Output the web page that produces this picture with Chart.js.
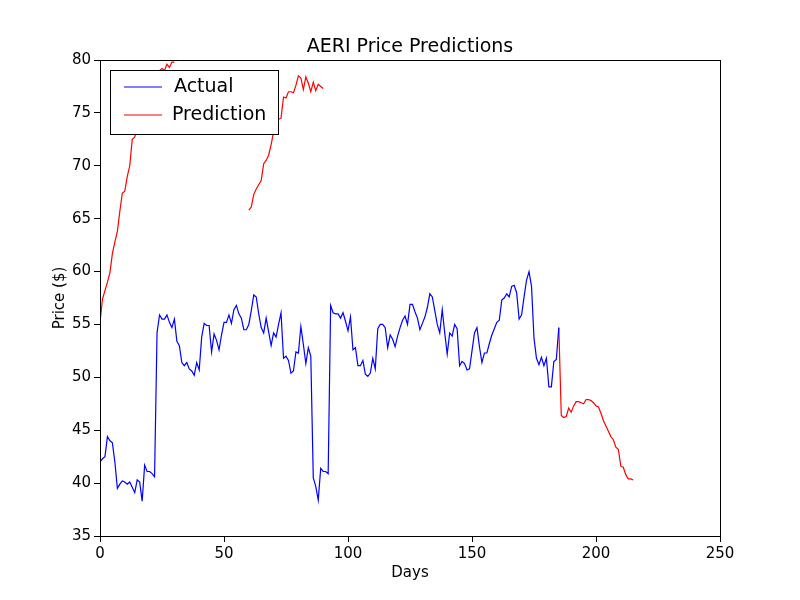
<!DOCTYPE html>
<html>
<head>
<meta charset="utf-8">
<script src="https://cdn.jsdelivr.net/npm/chart.js@4"></script>
<style>
  body { margin: 0; background: #fff; }
  #wrap { width: 800px; height: 600px; }
</style>
</head>
<body>
<div id="wrap"><canvas id="chart" width="800" height="600"></canvas></div>
<script>
// Actual price, one value per day starting at day 0
const actual = [
  42, 42.3, 42.5, 44.4, 44, 43.8, 42, 39.5, 39.9, 40.2, 40.1, 39.9, 40.1, 39.6, 39.1, 40.3, 40.1, 38.3, 41.7, 41.1,
  41.1, 40.9, 40.6, 54.2, 55.9, 55.5, 55.5, 55.9, 55.2, 54.7, 55.5, 53.4, 53, 51.4, 51.1, 51.4, 50.8, 50.6, 50.2, 51.4,
  50.7, 53.8, 55.1, 54.9, 54.9, 52.4, 54.1, 53.5, 52.6, 54, 55.2, 55.2, 55.9, 55.1, 56.4, 56.8, 56, 55.6, 54.5, 54.5,
  55, 56.3, 57.8, 57.6, 56, 54.7, 54.2, 55.6, 54.3, 53, 54.2, 53.8, 55, 56.1, 51.8, 52, 51.6, 50.4, 50.6, 52.4,
  52.3, 54.8, 53.1, 51.3, 52.8, 52, 40.5, 39.7, 38.4, 41.4, 41.1, 41.1, 40.9, 56.8, 56.1, 56, 56, 55.6, 56.1, 55.3,
  54.4, 55.7, 52.6, 52.8, 51.1, 51.1, 51.6, 50.3, 50.1, 50.4, 51.8, 50.8, 54.6, 55, 55, 54.7, 52.8, 54, 53.6, 52.9,
  53.9, 54.7, 55.4, 55.8, 55, 56.9, 56.9, 56.2, 55.6, 54.5, 55.1, 55.7, 56.6, 57.9, 57.6, 56.3, 55, 54.2, 56.4, 54.2,
  52.2, 54.2, 53.9, 55, 54.6, 51.1, 51.5, 51.3, 50.7, 50.8, 52.5, 54.2, 54.7, 52.9, 51.4, 52.3, 52.3, 53.2, 54, 54.6,
  55.2, 55.4, 57.3, 57.5, 57.9, 57.6, 58.6, 58.7, 58, 55.5, 55.9, 57.6, 59.2, 60, 58.6, 53.7, 51.8, 51.2, 51.9, 51.1,
  51.8, 49.1, 49.1, 51.5, 51.7, 54.7
];

// Prediction segments: start day and daily values
const predStarts = [0, 60, 185];
const pred1 = [55.2, 57.4, 58.2, 59, 59.9, 61.7, 62.8, 63.8, 65.7, 67.4, 67.6, 69, 70, 72.5, 72.7, 73.5, 74.5, 75.5, 76, 76.8,
  77, 77.5, 78, 78.5, 79, 79.2, 79, 79.6, 79.3, 79.8, 79.8];
const pred2 = [65.8, 66.1, 67.3, 67.8, 68.2, 68.6, 70.2, 70.5, 71, 72, 73.2, 73.6, 74.4, 74.5, 76.5, 76.4, 77, 77, 76.9, 77.6,
  78.5, 78.3, 77.2, 78.4, 77.8, 77, 77.9, 77.1, 77.7, 77.5, 77.3];
const pred3 = [54.7, 46.4, 46.2, 46.3, 47.1, 46.7, 47.3, 47.7, 47.7, 47.6, 47.5, 47.9, 47.9, 47.8, 47.6, 47.3, 47.2, 46.6, 45.9, 45.4,
  44.9, 44.4, 44.1, 43.4, 43.2, 41.6, 41.5, 40.8, 40.4, 40.4, 40.3];

const xTicks = [0, 50, 100, 150, 200, 250];
const yTicks = [35, 40, 45, 50, 55, 60, 65, 70, 75, 80];

const actualPts = actual.map((v, i) => ({ x: i, y: v }));
const predPts = [];
[pred1, pred2, pred3].forEach((seg, s) => {
  if (s > 0) predPts.push({ x: predStarts[s] - 0.5, y: null });
  seg.forEach((v, i) => predPts.push({ x: predStarts[s] + i, y: v }));
});

const FONT = "'DejaVu Sans', sans-serif";

// matplotlib style box, title, axis labels and inner legend
const framePlugin = {
  id: 'frame',
  afterDraw(chart) {
    const { ctx, chartArea: a } = chart;
    ctx.save();
    ctx.strokeStyle = '#000';
    ctx.lineWidth = 1;
    ctx.strokeRect(a.left + 0.5, a.top + 0.5, a.right - a.left, a.bottom - a.top);

    ctx.fillStyle = '#000';
    ctx.textAlign = 'center';
    ctx.textBaseline = 'middle';
    ctx.font = '19px ' + FONT;
    ctx.fillText('AERI Price Predictions', (a.left + a.right) / 2, 47);
    ctx.font = '15px ' + FONT;
    ctx.fillText('Days', (a.left + a.right) / 2, 573);
    ctx.save();
    ctx.translate(60, (a.top + a.bottom) / 2);
    ctx.rotate(-Math.PI / 2);
    ctx.fillText('Price ($)', 0, 0);
    ctx.restore();

    // legend
    const lx = 110, ly = 70, lw = 168, lh = 64;
    ctx.textAlign = 'left';
    ctx.fillStyle = '#fff';
    ctx.fillRect(lx, ly, lw, lh);
    ctx.strokeRect(lx + 0.5, ly + 0.5, lw, lh);
    ctx.font = '19px ' + FONT;
    chart.data.datasets.forEach((ds, i) => {
      const yy = ly + 17 + i * 28;
      ctx.strokeStyle = ds.borderColor;
      ctx.beginPath();
      ctx.moveTo(lx + 14, yy);
      ctx.lineTo(lx + 52, yy);
      ctx.stroke();
      ctx.fillStyle = '#000';
      ctx.fillText(ds.label, lx + (i === 0 ? 64 : 62), yy);
    });
    ctx.restore();
  }
};

new Chart(document.getElementById('chart'), {
  type: 'line',
  data: {
    datasets: [
      { label: 'Actual', data: actualPts, borderColor: '#0000ff', borderWidth: 1.2, pointRadius: 0, tension: 0 },
      { label: 'Prediction', data: predPts, borderColor: '#ff0000', borderWidth: 1.2, pointRadius: 0, tension: 0, spanGaps: false }
    ]
  },
  plugins: [framePlugin],
  options: {
    responsive: false,
    animation: false,
    layout: { padding: { top: 60, right: 80, bottom: 34, left: 0 } },
    plugins: {
      legend: { display: false },
      tooltip: { enabled: false }
    },
    scales: {
      x: {
        type: 'linear', min: 0, max: 250,
        afterBuildTicks: ax => { ax.ticks = xTicks.map(v => ({ value: v })); },
        grid: { drawOnChartArea: false, tickLength: 6, color: '#000' },
        border: { color: '#000' },
        ticks: { color: '#000', font: { family: FONT, size: 15 }, maxRotation: 0 }
      },
      y: {
        min: 35, max: 80,
        afterBuildTicks: ax => { ax.ticks = yTicks.map(v => ({ value: v })); },
        afterFit: ax => { ax.width = 100; },
        grid: { drawOnChartArea: false, tickLength: 6, color: '#000' },
        border: { color: '#000' },
        ticks: { color: '#000', font: { family: FONT, size: 15 } }
      }
    }
  }
});
</script>
</body>
</html>
